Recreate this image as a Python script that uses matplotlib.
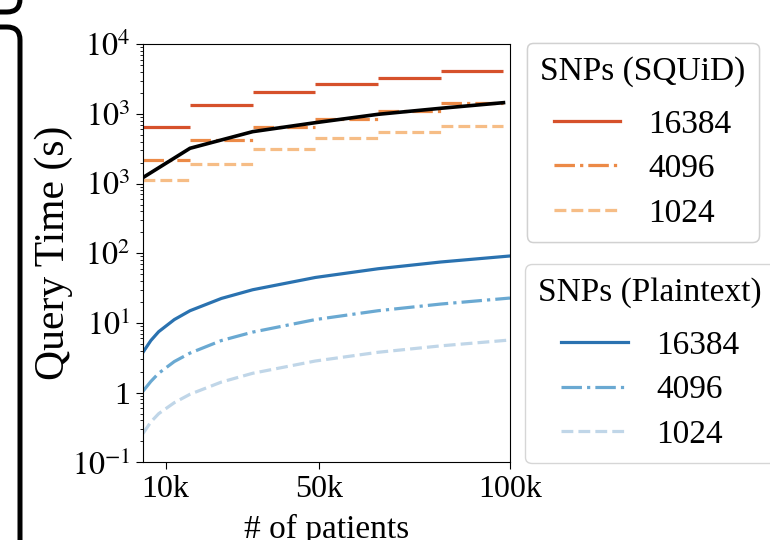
import matplotlib
matplotlib.use("Agg")
import matplotlib.pyplot as plt
from matplotlib.patches import FancyBboxPatch
from matplotlib.lines import Line2D
import numpy as np

plt.rcParams['font.family'] = ['Liberation Serif', 'DejaVu Serif']
plt.rcParams['mathtext.fontset'] = 'stix'
plt.rcParams['font.size'] = 23

# SQUiD query time per block of 16384 patients (step segments)
block_edges = [4096, 16384, 32768, 49152, 65536, 81920, 98304]
squid_16384 = [6550, 13550, 20800, 26600, 32400, 41700]
squid_4096 = [2180, 4220, 6550, 8450, 11000, 14200]
squid_1024 = [1130, 1890, 3170, 4510, 5560, 6770]

# black reference line
black_x = [4096, 16384, 32768, 49152, 65536, 81920, 98304]
black_y = [1220, 3210, 5560, 7480, 9860, 12030, 14480]

# plaintext query time
plain_x = [4096, 6144, 8192, 12288, 16384, 24576, 32768, 49152, 65536, 81920, 100000]
plain_16384 = [3.8, 5.6, 7.5, 11.2, 15, 22.5, 30, 45, 60, 75, 91.5]
plain_4096 = [1.05, 1.45, 1.9, 2.8, 3.7, 5.6, 7.4, 11.2, 15, 18.7, 22.8]
plain_1024 = [0.26, 0.38, 0.5, 0.72, 0.95, 1.42, 1.9, 2.85, 3.8, 4.7, 5.7]

snp_labels = ['16384', '4096', '1024']
squid_colors = ['#d6512b', '#ec8a47', '#f6bd86']
plain_colors = ['#2a72b0', '#6aa9d2', '#c0d6e8']
styles = ['-', '-.', '--']

ytick_vals = [1e-1, 1, 1e1, 1e2, 1e3, 1e4, 1e5]
ytick_labels = ['$10^{-1}$', '1', '$10^{1}$', '$10^{2}$', '$10^{3}$', '$10^{3}$', '$10^{4}$']
xtick_vals = [10000, 50000, 100000]
xtick_labels = ['10k', '50k', '100k']

fig = plt.figure(figsize=(7.7, 5.4), dpi=100)
ax = fig.add_axes([0.1857, 0.1437, 0.4766, 0.7745])

squid_series = [squid_16384, squid_4096, squid_1024]
for vals, col, ls in zip(squid_series, squid_colors, styles):
    ax.hlines(vals, block_edges[:-1], block_edges[1:], colors=col,
              linestyles=ls, linewidth=2.3)

ax.plot(black_x, black_y, color='black', linewidth=2.6)

plain_series = [plain_16384, plain_4096, plain_1024]
for vals, col, ls in zip(plain_series, plain_colors, styles):
    ax.plot(plain_x, vals, color=col, linestyle=ls, linewidth=2.3)

ax.set_yscale('log')
ax.set_ylim(1e-1, 1e5)
ax.set_xlim(4096, 100000)
ax.set_yticks(ytick_vals)
ax.set_yticklabels(ytick_labels)
ax.set_xticks(xtick_vals)
ax.set_xticklabels(xtick_labels)
ax.tick_params(axis='both', which='major', labelsize=23, length=5, pad=4)
ax.set_ylabel('Query Time (s)', fontsize=30, labelpad=-1)
ax.set_xlabel('# of patients', fontsize=24, labelpad=7)

# legends
squid_handles = [Line2D([0], [0], color=c, linestyle=s, linewidth=2.3)
                 for c, s in zip(squid_colors, styles)]
plain_handles = [Line2D([0], [0], color=c, linestyle=s, linewidth=2.3)
                 for c, s in zip(plain_colors, styles)]

leg_kw = dict(loc='upper left', fontsize=24, title_fontsize=24,
              handlelength=2.0, borderpad=0.4, labelspacing=0.42,
              handletextpad=0.85, borderaxespad=0)
leg1 = fig.legend(squid_handles, snp_labels, title='SNPs (SQUiD)',
                  bbox_to_anchor=(0.684, 0.921), **leg_kw)
leg2 = fig.legend(plain_handles, snp_labels, title='SNPs (Plaintext)',
                  bbox_to_anchor=(0.682, 0.511), **leg_kw)
for leg in (leg1, leg2):
    leg._legend_box.sep = 16
fig.add_artist(leg1)

# edges of neighbouring panels cropped on the left
box1 = FancyBboxPatch((-1.0, 5.28), 1.2, 1.5,
                      boxstyle='round,pad=0,rounding_size=0.13',
                      transform=fig.dpi_scale_trans, fill=False,
                      edgecolor='black', linewidth=3.6)
box2 = FancyBboxPatch((-1.0, -1.0), 1.2, 6.13,
                      boxstyle='round,pad=0,rounding_size=0.13',
                      transform=fig.dpi_scale_trans, fill=False,
                      edgecolor='black', linewidth=3.6)
fig.patches.extend([box1, box2])

fig.savefig('out.png', dpi=100)
